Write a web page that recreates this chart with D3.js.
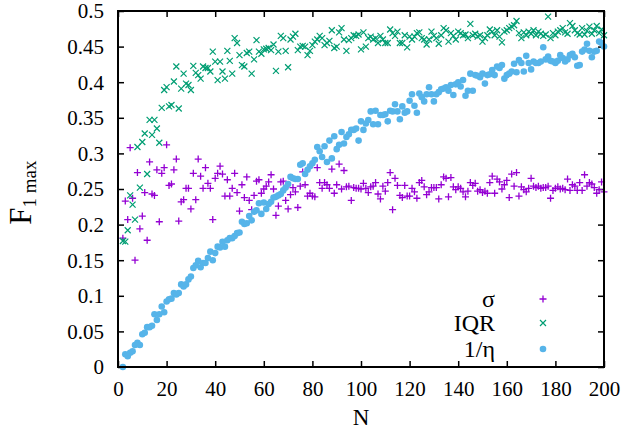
<!DOCTYPE html>
<html>
<head>
<meta charset="utf-8">
<script src="https://cdn.jsdelivr.net/npm/d3@7"></script>
<style>
  html, body { margin: 0; padding: 0; background: #fff; }
  svg { display: block; font-family: "Liberation Serif", "DejaVu Serif", serif; }
</style>
</head>
<body>
<svg id="chart" width="624" height="432"></svg>
<script>
'use strict';

// N runs 2..200, one value per N
const N_START = 2;

const sigma = [
  0.181, 0.233, 0.207, 0.308, 0.237, 0.150, 0.273, 0.194, 0.212, 0.245,
  0.178, 0.288, 0.243, 0.241, 0.277, 0.204, 0.272, 0.280, 0.312, 0.255,
  0.257, 0.277, 0.292, 0.205, 0.232, 0.235, 0.251, 0.251, 0.222, 0.272,
  0.235, 0.292, 0.268, 0.251, 0.280, 0.258, 0.251, 0.207, 0.265, 0.272,
  0.282, 0.271, 0.240, 0.263, 0.240, 0.251, 0.272, 0.245, 0.219, 0.256,
  0.238, 0.267, 0.234, 0.221, 0.241, 0.261, 0.263, 0.244, 0.250, 0.254,
  0.260, 0.270, 0.250, 0.213, 0.226, 0.260, 0.261, 0.234, 0.222, 0.242,
  0.252, 0.246, 0.224, 0.254, 0.274, 0.256, 0.240, 0.244, 0.240, 0.239,
  0.280, 0.259, 0.251, 0.259, 0.256, 0.251, 0.278, 0.244, 0.256, 0.285,
  0.250, 0.276, 0.253, 0.254, 0.234, 0.252, 0.251, 0.251, 0.250, 0.258,
  0.251, 0.245, 0.253, 0.254, 0.259, 0.243, 0.236, 0.254, 0.247, 0.259,
  0.273, 0.221, 0.265, 0.255, 0.241, 0.238, 0.255, 0.240, 0.240, 0.251,
  0.246, 0.237, 0.259, 0.262, 0.253, 0.242, 0.246, 0.252, 0.252, 0.252,
  0.236, 0.256, 0.267, 0.265, 0.239, 0.266, 0.253, 0.249, 0.253, 0.251,
  0.246, 0.239, 0.247, 0.259, 0.255, 0.258, 0.247, 0.249, 0.245, 0.247,
  0.244, 0.259, 0.268, 0.244, 0.264, 0.260, 0.250, 0.256, 0.262, 0.238,
  0.271, 0.254, 0.273, 0.240, 0.253, 0.249, 0.246, 0.251, 0.265, 0.254,
  0.252, 0.254, 0.251, 0.252, 0.252, 0.254, 0.237, 0.248, 0.251, 0.253,
  0.250, 0.251, 0.249, 0.264, 0.248, 0.256, 0.254, 0.248, 0.259, 0.248,
  0.270, 0.254, 0.259, 0.257, 0.252, 0.244, 0.249, 0.260, 0.246
];

const iqr = [
  0.177, 0.176, 0.192, 0.241, 0.228, 0.207, 0.309, 0.252, 0.316, 0.328,
  0.271, 0.347, 0.326, 0.347, 0.335, 0.315, 0.364, 0.389, 0.393, 0.366,
  0.368, 0.401, 0.422, 0.363, 0.391, 0.412, 0.398, 0.396, 0.389, 0.423,
  0.413, 0.410, 0.405, 0.422, 0.420, 0.420, 0.415, 0.443, 0.429, 0.403,
  0.429, 0.415, 0.405, 0.444, 0.430, 0.412, 0.462, 0.455, 0.438, 0.424,
  0.422, 0.441, 0.443, 0.412, 0.432, 0.459, 0.443, 0.440, 0.446, 0.447,
  0.448, 0.445, 0.453, 0.416, 0.443, 0.465, 0.462, 0.444, 0.421, 0.460,
  0.464, 0.468, 0.445, 0.450, 0.451, 0.450, 0.438, 0.444, 0.452, 0.457,
  0.460, 0.465, 0.462, 0.452, 0.455, 0.458, 0.473, 0.448, 0.450, 0.470,
  0.476, 0.460, 0.444, 0.459, 0.462, 0.466, 0.465, 0.467, 0.446, 0.470,
  0.450, 0.462, 0.464, 0.460, 0.462, 0.455, 0.465, 0.460, 0.455, 0.455,
  0.474, 0.469, 0.465, 0.471, 0.455, 0.455, 0.466, 0.449, 0.464, 0.460,
  0.464, 0.469, 0.470, 0.462, 0.460, 0.453, 0.460, 0.471, 0.465, 0.462,
  0.454, 0.466, 0.476, 0.473, 0.457, 0.469, 0.465, 0.460, 0.471, 0.469,
  0.466, 0.467, 0.462, 0.482, 0.466, 0.468, 0.464, 0.466, 0.457, 0.462,
  0.466, 0.474, 0.471, 0.466, 0.473, 0.464, 0.456, 0.471, 0.473, 0.476,
  0.478, 0.480, 0.486, 0.469, 0.462, 0.470, 0.466, 0.471, 0.468, 0.473,
  0.466, 0.471, 0.468, 0.465, 0.467, 0.492, 0.462, 0.469, 0.466, 0.471,
  0.473, 0.476, 0.470, 0.468, 0.483, 0.479, 0.473, 0.469, 0.467, 0.476,
  0.467, 0.472, 0.478, 0.468, 0.473, 0.479, 0.469, 0.474, 0.466
];

const invEta = [
  0.000, 0.018, 0.015, 0.020, 0.022, 0.031, 0.034, 0.031, 0.046, 0.048,
  0.056, 0.056, 0.058, 0.074, 0.066, 0.074, 0.085, 0.077, 0.092, 0.095,
  0.096, 0.104, 0.102, 0.104, 0.116, 0.113, 0.116, 0.123, 0.127, 0.139,
  0.143, 0.149, 0.140, 0.146, 0.146, 0.153, 0.162, 0.150, 0.160, 0.169,
  0.168, 0.176, 0.169, 0.178, 0.181, 0.181, 0.184, 0.188, 0.189, 0.204,
  0.201, 0.202, 0.212, 0.206, 0.218, 0.220, 0.230, 0.215, 0.231, 0.222,
  0.229, 0.232, 0.238, 0.239, 0.241, 0.243, 0.248, 0.252, 0.257, 0.267,
  0.265, 0.264, 0.264, 0.284, 0.286, 0.271, 0.277, 0.282, 0.286, 0.291,
  0.309, 0.303, 0.295, 0.310, 0.288, 0.318, 0.293, 0.324, 0.306, 0.312,
  0.330, 0.314, 0.323, 0.327, 0.333, 0.333, 0.335, 0.318, 0.345, 0.333,
  0.342, 0.347, 0.359, 0.341, 0.360, 0.341, 0.354, 0.354, 0.355, 0.345,
  0.360, 0.359, 0.369, 0.359, 0.348, 0.366, 0.357, 0.359, 0.374, 0.383,
  0.367, 0.357, 0.384, 0.379, 0.373, 0.383, 0.393, 0.383, 0.373, 0.383,
  0.386, 0.390, 0.391, 0.393, 0.388, 0.396, 0.382, 0.397, 0.400, 0.394,
  0.403, 0.381, 0.388, 0.412, 0.388, 0.410, 0.409, 0.407, 0.412, 0.398,
  0.410, 0.411, 0.417, 0.410, 0.422, 0.420, 0.424, 0.405, 0.410, 0.412,
  0.415, 0.426, 0.414, 0.431, 0.427, 0.415, 0.437, 0.427, 0.418, 0.429,
  0.427, 0.427, 0.429, 0.449, 0.432, 0.436, 0.430, 0.429, 0.427, 0.430,
  0.438, 0.434, 0.429, 0.432, 0.438, 0.440, 0.435, 0.423, 0.424, 0.443,
  0.446, 0.454, 0.444, 0.435, 0.443, 0.444, 0.457, 0.455, 0.450
];

const xTicks = [0, 20, 40, 60, 80, 100, 120, 140, 160, 180, 200];
const yTicks = [0, 0.05, 0.1, 0.15, 0.2, 0.25, 0.3, 0.35, 0.4, 0.45, 0.5];
const yTickLabels = ['0', '0.05', '0.1', '0.15', '0.2', '0.25', '0.3', '0.35', '0.4', '0.45', '0.5'];

const seriesNames  = ['σ', 'IQR', '1/η'];
const seriesColors = ['#9400d3', '#009e73', '#56b4e9'];
const seriesShapes = ['plus', 'cross', 'dot'];

const M = { left: 118, right: 604, top: 11, bottom: 367 };
const TICK_FONT = 21;
const LABEL_FONT = 24;

const svg = d3.select('#chart');

const x = d3.scaleLinear().domain([0, 200]).range([M.left, M.right]);
const y = d3.scaleLinear().domain([0, 0.5]).range([M.bottom, M.top]);

// axes: ticks point inward and are mirrored on top / right
const tick = 6;
const gx = svg.append('g').attr('transform', `translate(0,${M.bottom})`)
  .call(d3.axisBottom(x).tickValues(xTicks).tickSizeInner(-tick).tickSizeOuter(0).tickPadding(14));
const gxTop = svg.append('g').attr('transform', `translate(0,${M.top})`)
  .call(d3.axisTop(x).tickValues(xTicks).tickSizeInner(-tick).tickSizeOuter(0).tickFormat(''));
const gy = svg.append('g').attr('transform', `translate(${M.left},0)`)
  .call(d3.axisLeft(y).tickValues(yTicks).tickSizeInner(-tick).tickSizeOuter(0).tickPadding(14)
    .tickFormat((d, i) => yTickLabels[i]));
const gyR = svg.append('g').attr('transform', `translate(${M.right},0)`)
  .call(d3.axisRight(y).tickValues(yTicks).tickSizeInner(-tick).tickSizeOuter(0).tickFormat(''));

[gx, gxTop, gy, gyR].forEach(g => {
  g.select('.domain').remove();
  g.attr('font-family', null).attr('font-size', null);
  g.selectAll('.tick line').attr('stroke', '#000').attr('stroke-width', 1.5);
  g.selectAll('.tick text')
    .attr('fill', '#000')
    .style('font-size', TICK_FONT + 'px');
});
gy.selectAll('.tick text').attr('dy', '0.33em');

// markers
function drawMark(g, shape, cx, cy, color) {
  if (shape === 'plus') {
    g.append('path').attr('d', `M${cx - 3.5},${cy}H${cx + 3.5}M${cx},${cy - 3.5}V${cy + 3.5}`)
      .attr('stroke', color).attr('stroke-width', 1.3).attr('fill', 'none');
  } else if (shape === 'cross') {
    g.append('path').attr('d', `M${cx - 3},${cy - 3}L${cx + 3},${cy + 3}M${cx - 3},${cy + 3}L${cx + 3},${cy - 3}`)
      .attr('stroke', color).attr('stroke-width', 1.2).attr('fill', 'none');
  } else {
    g.append('circle').attr('cx', cx).attr('cy', cy).attr('r', 3.3).attr('fill', color);
  }
}

const plot = svg.append('g');
[sigma, iqr, invEta].forEach((vals, s) => {
  const g = plot.append('g');
  vals.forEach((v, i) => drawMark(g, seriesShapes[s], x(N_START + i), y(v), seriesColors[s]));
});

// border
svg.append('rect')
  .attr('x', M.left).attr('y', M.top)
  .attr('width', M.right - M.left).attr('height', M.bottom - M.top)
  .attr('fill', 'none').attr('stroke', '#000').attr('stroke-width', 2);

// legend
const legRows = [299, 323, 349];
seriesNames.forEach((name, s) => {
  svg.append('text')
    .attr('x', 495).attr('y', legRows[s]).attr('dy', '0.33em')
    .attr('text-anchor', 'end')
    .style('font-size', LABEL_FONT + 'px')
    .text(name);
  drawMark(svg, seriesShapes[s], 543, legRows[s], seriesColors[s]);
});

// axis labels
svg.append('text')
  .attr('x', x(100)).attr('y', 425)
  .attr('text-anchor', 'middle')
  .style('font-size', '23px')
  .text('N');

const yl = svg.append('text')
  .attr('transform', `translate(31,${y(0.245)}) rotate(-90)`)
  .attr('text-anchor', 'middle');
yl.append('tspan').style('font-size', '31px').text('F');
yl.append('tspan').style('font-size', '19px').attr('dy', 5).text('1 max');
</script>
</body>
</html>
